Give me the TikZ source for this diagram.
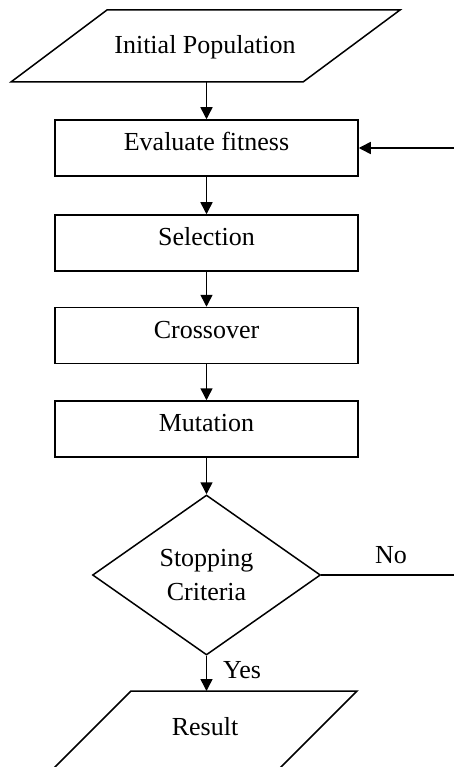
\documentclass[tikz,border=0pt]{standalone}
\usepackage{fontspec}
\setmainfont{Liberation Serif}
\usetikzlibrary{arrows.meta,shapes.geometric}
\begin{document}
\begin{tikzpicture}[x=1pt,y=-1pt,
  every node/.style={font=\fontsize{26}{35}\selectfont},
  line/.style={line width=1.5pt},
  arr/.style={line width=1.5pt,-{Triangle[width=12pt,length=12pt]}},
  procbox/.style={draw,line width=1.5pt,minimum width=303pt,minimum height=56pt,inner sep=0pt,text height=18pt,text depth=13pt},
  lbl/.style={inner sep=0pt}]
\useasboundingbox (0,0) rectangle (454,767);
\clip (0,0) rectangle (454,767);
% Initial Population (parallelogram)
\draw[line,line join=miter] (107,10) -- (400,10) -- (303,82) -- (11,82) -- cycle;
\node[lbl] (init) at (205,47) {Initial Population};
\coordinate (initb) at (206.5,82);
% process boxes
\node[procbox] (eval) at (206.5,148) {Evaluate fitness};
\node[procbox] (sel) at (206.5,243) {Selection};
\node[procbox] (cross) at (206.5,335.5) {Crossover};
\node[procbox] (mut) at (206.5,429) {Mutation};
% decision
\node[diamond,draw,line width=1.5pt,minimum width=228pt,minimum height=160pt,inner sep=0pt,align=center] (stop) at (206.5,575) {Stopping\\[-1pt]Criteria};
% Result
\draw[line] (131,691) -- (357,691) -- (248,800) -- (22,800) -- cycle;
\node[lbl] (res) at (205,727) {Result};
\coordinate (rest) at (206.5,691);
% connectors
\draw[arr] (initb) -- (eval.north);
\draw[arr] (eval) -- (sel);
\draw[arr] (sel) -- (cross);
\draw[arr] (cross) -- (mut);
\draw[arr] (mut) -- (stop);
\draw[arr] (stop.south) -- (rest);
\node[lbl] (yes) at (242,670) {Yes};
\coordinate (noend) at (454,575);
\draw[line] (stop.east) -- (noend);
\node[lbl] (no) at (391,555) {No};
\coordinate (fbstart) at (454,148);
\draw[arr] (fbstart) -- (eval.east);
\end{tikzpicture}
\end{document}
